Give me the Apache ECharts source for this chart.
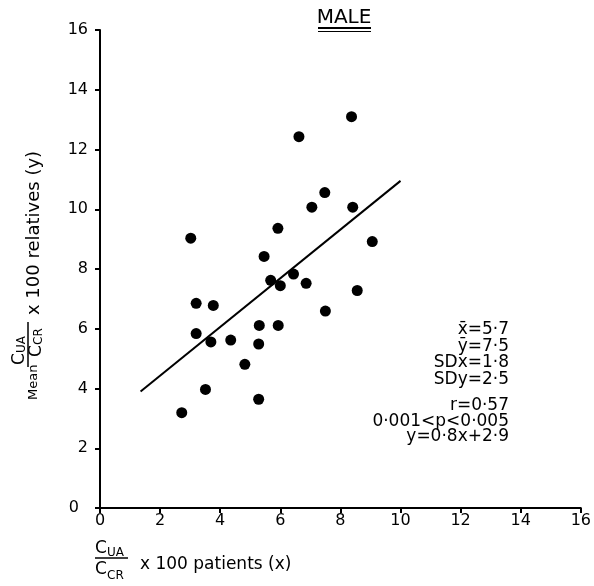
<!DOCTYPE html>
<html>
<head>
<meta charset="utf-8">
<script src="https://cdn.jsdelivr.net/npm/echarts@6/dist/echarts.min.js"></script>
<style>
html, body { margin: 0; padding: 0; background: #fff; }
#chart { width: 594px; height: 586px; }
</style>
</head>
<body>
<div id="chart"></div>
<script>
// C_UA/C_CR x 100, patients (x) vs mean of relatives (y) -- males
const patientsX = [3.02, 5.46, 5.92, 6.62, 7.05, 7.48, 8.37, 8.41, 9.06,
                   5.68, 6.0, 6.44, 6.86, 8.56, 3.2, 3.77, 7.5, 3.2,
                   3.69, 4.35, 5.3, 5.93, 5.28, 4.82, 3.51, 5.28, 2.72];
const relativesY = [9.03, 8.42, 9.36, 12.43, 10.07, 10.56, 13.1, 10.07, 8.92,
                    7.62, 7.44, 7.83, 7.52, 7.28, 6.85, 6.78, 6.59, 5.84,
                    5.56, 5.62, 6.11, 6.11, 5.49, 4.81, 3.97, 3.64, 3.19];
// regression line y = 0.8x + 2.9, as drawn
const fitX = [1.35, 10.0];
const fitY = [3.9, 10.95];
const statsUpper = ['x\u0304=5\u00b77', '\u0233=7\u00b75', 'SDx=1\u00b78', 'SDy=2\u00b75'];
const statsLower = ['r=0\u00b757', '0\u00b7001<p<0\u00b7005', 'y=0\u00b78x+2\u00b79'];

const ink = '#000';
const ff = 'DejaVu Sans';

const chart = echarts.init(document.getElementById('chart'));

function txt(x, y, text, size, align) {
    return {
        type: 'text', x: x, y: y,
        style: { text: text, fill: ink, font: size + 'px "' + ff + '"', align: align || 'left', verticalAlign: 'middle' }
    };
}

const graphics = [];
// title
graphics.push(txt(344, 18, 'MALE', 20, 'center'));
graphics.push({ type: 'line', shape: { x1: 318, y1: 28, x2: 371, y2: 28 }, style: { stroke: ink, lineWidth: 2 } });
graphics.push({ type: 'line', shape: { x1: 318, y1: 31.5, x2: 371, y2: 31.5 }, style: { stroke: ink, lineWidth: 1 } });

// stats block
statsUpper.forEach((s, i) => graphics.push(txt(509, 330 + i * 16.5, s, 17, 'right')));
statsLower.forEach((s, i) => graphics.push(txt(509, 406 + i * 15.5, s, 17, 'right')));

// x axis label
graphics.push(txt(95, 549, 'C', 17));
graphics.push(txt(107, 553, 'UA', 12));
graphics.push({ type: 'line', shape: { x1: 95, y1: 558, x2: 128, y2: 558 }, style: { stroke: ink, lineWidth: 1.5 } });
graphics.push(txt(95, 570, 'C', 17));
graphics.push(txt(107, 576, 'CR', 12));
graphics.push(txt(140, 565, 'x 100 patients (x)', 17));

// y axis label (rotated, reads upward)
graphics.push({
    type: 'group', x: 40, y: 400, rotation: Math.PI / 2,
    children: [
        txt(0, -6, 'Mean', 13),
        txt(35, -20.5, 'C', 17),
        txt(47, -18, 'UA', 12),
        { type: 'line', shape: { x1: 33, y1: -12, x2: 78, y2: -12 }, style: { stroke: ink, lineWidth: 1.5 } },
        txt(43, -3.5, 'C', 17),
        txt(55, -1, 'CR', 12),
        txt(85, -6, 'x 100 relatives (y)', 18)
    ]
});

const axisCommon = {
    type: 'value', min: 0, max: 16, interval: 2,
    axisLine: { show: true, onZero: false, lineStyle: { color: ink, width: 2 } },
    axisTick: { show: true, length: 5, lineStyle: { color: ink, width: 2 } },
    splitLine: { show: false }
};

chart.setOption({
    animation: false,
    backgroundColor: '#fff',
    grid: { left: 100, right: 8, top: 30, bottom: 78 },
    xAxis: Object.assign({}, axisCommon, {
        axisLabel: { margin: 5, color: ink, fontFamily: ff, fontSize: 16 }
    }),
    yAxis: Object.assign({}, axisCommon, {
        axisLabel: {
            margin: 12, color: ink, fontFamily: ff, fontSize: 16,
            formatter: v => v === 0 ? '{zero|0}' : String(v),
            rich: { zero: { padding: [0, 9, 0, 0], color: ink, fontFamily: ff, fontSize: 16 } }
        }
    }),
    series: [
        {
            type: 'line',
            data: fitX.map((x, i) => [x, fitY[i]]),
            showSymbol: false,
            lineStyle: { color: ink, width: 2 },
            z: 1
        },
        {
            type: 'scatter',
            data: patientsX.map((x, i) => [x, relativesY[i]]),
            symbol: 'circle',
            symbolSize: 11,
            itemStyle: { color: ink, opacity: 1 },
            z: 2
        }
    ],
    graphic: graphics
});
</script>
</body>
</html>
